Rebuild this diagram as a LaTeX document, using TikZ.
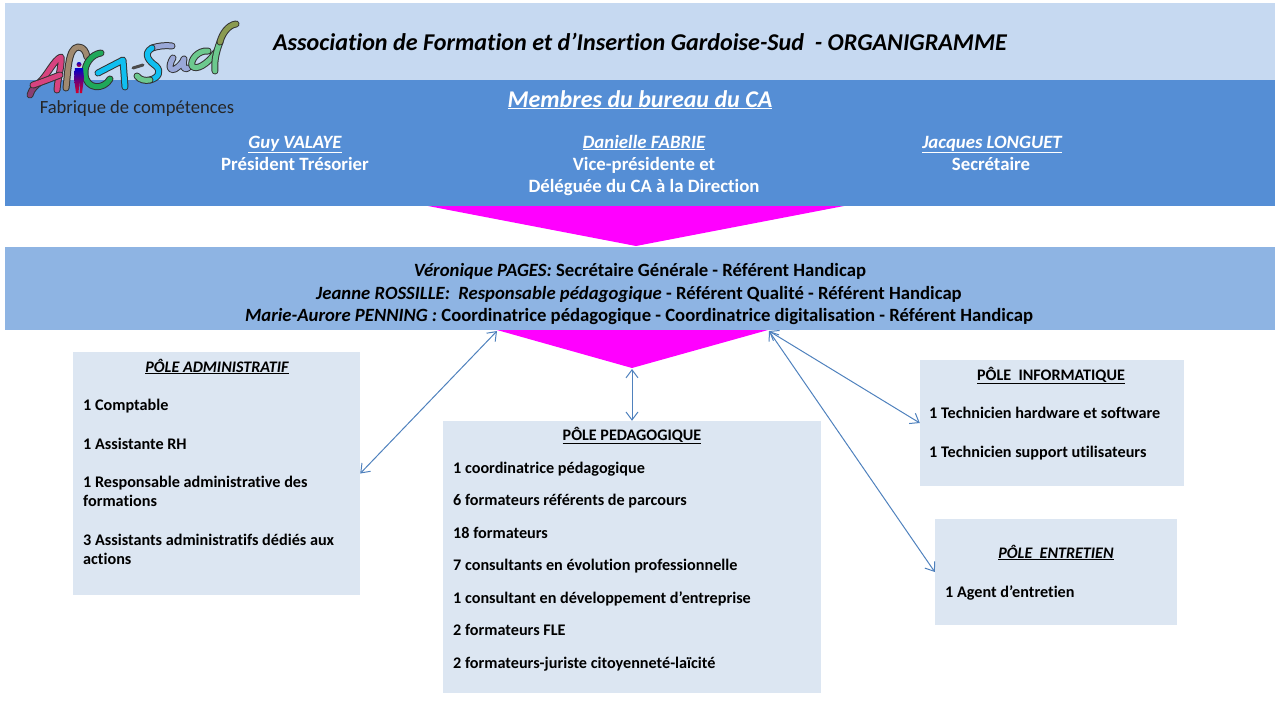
\documentclass[tikz,border=0pt]{standalone}
\usepackage{fontspec}
\setmainfont[Ligatures=NoCommon]{Carlito}
\usetikzlibrary{arrows.meta}
\definecolor{bandtop}{HTML}{C6D9F1}
\definecolor{bandca}{HTML}{558ED5}
\definecolor{bandstaff}{HTML}{8EB4E3}
\definecolor{polefill}{HTML}{DCE6F2}
\definecolor{linkblue}{HTML}{4F81BD}
\definecolor{logopink}{HTML}{D8437F}
\definecolor{logoplum}{HTML}{8A3F73}
\definecolor{logotan}{HTML}{A08A70}
\definecolor{logogreen}{HTML}{1FA85A}
\definecolor{logocyan}{HTML}{10BFF0}
\definecolor{logolav}{HTML}{9AA8D8}
\definecolor{logomint}{HTML}{6CC98E}
\definecolor{logoolive}{HTML}{8A9A50}
\tikzset{
  band/.style={fill=#1,inner sep=0pt,anchor=north west},
  polebox/.style={fill=polefill,inner sep=0pt},
  link/.style={linkblue,line width=1pt,{Straight Barb[length=8pt,width=12pt]}-{Straight Barb[length=8pt,width=12pt]}},
  item/.style={anchor=base west,inner sep=0pt,font=\fontsize{16.2}{18}\selectfont\bfseries},
  polehead/.style={anchor=base,inner sep=0pt,font=\fontsize{16.1}{18}\selectfont\bfseries},
  member/.style={anchor=base,inner sep=0pt,text=white,font=\fontsize{18.8}{22}\selectfont\bfseries},
  membername/.style={member,font=\fontsize{18.8}{22}\selectfont\bfseries\itshape},
  staff/.style={anchor=base,inner sep=0pt,font=\fontsize{18.7}{22}\selectfont\bfseries},
  logostroke/.style={line width=#1,line cap=round,line join=round},
}
% logo letter: black outline then colour on top
\newcommand{\logopath}[2]{%
  \draw[logostroke=7pt,black!80] #2;
  \draw[logostroke=5pt,#1] #2;
}
\begin{document}
\begin{tikzpicture}[x=1pt,y=1pt,yscale=-1,xscale=1]
\useasboundingbox (0,0) rectangle (1280,720);

%Bands
\node[band=bandtop,minimum width=1270pt,minimum height=77pt] (bandtitle) at (5,3) {};
\node[band=bandca,minimum width=1270pt,minimum height=126pt] (bandbureau) at (5,80) {};
\node[band=bandstaff,minimum width=1270pt,minimum height=83pt] (bandstaff) at (5,247) {};

%Funnels
\fill[fill={rgb,255:red,255;green,0;blue,255}] (428,206) -- (844,206) -- (636,246) -- cycle;
\fill[fill={rgb,255:red,255;green,0;blue,255}] (497,330) -- (768,330) -- (632,368) -- cycle;
\coordinate (hubleft) at (497,331);
\coordinate (hubmid) at (632,369);
\coordinate (hubright) at (769,331);

%Pole boxes
\node[polebox,minimum width=287pt,minimum height=243pt] (poleadmin) at (216.5,473.5) {};
\node[polebox,minimum width=378pt,minimum height=272pt] (polepedago) at (632,557) {};
\node[polebox,minimum width=264pt,minimum height=126pt] (poleinfo) at (1052,423) {};
\node[polebox,minimum width=242pt,minimum height=106pt] (poleentretien) at (1056,572) {};

%Links
\draw[link] (hubleft) -- (poleadmin.east);
\draw[link] (hubmid) -- (polepedago.north);
\draw[link] (hubright) -- (poleinfo.west);
\draw[link] (hubright) -- (poleentretien.west);

%Title
\node[anchor=base,inner sep=0pt,font=\fontsize{24.1}{28}\selectfont\bfseries\itshape] (title) at (640,50) {Association de Formation et d’Insertion Gardoise-Sud\ \ - ORGANIGRAMME};

%Logo
\logopath{logoplum}{(30,95) .. controls (32,88) and (36,86) .. (40,82)}
\logopath{logopink}{(40,82) .. controls (48,74) and (54,60) .. (61,57) .. controls (62,66) and (58,76) .. (57,90)}
\logopath{logopink}{(33,85) .. controls (42,82) and (52,78) .. (60,75)}
\logopath{logotan}{(66,88) .. controls (68,72) and (68,48) .. (78,47) .. controls (84,47) and (86,52) .. (87,57)}
\logopath{logogreen}{(101,53) .. controls (92,54) and (84,64) .. (85,74) .. controls (86,90) and (104,90) .. (110,79)}
\logopath{logocyan}{(98,73) -- (123,60) -- (125,87)}
\shade[top color=blue!80!black,bottom color=red!70!violet] (79,64.5) circle (2.5pt);
\shade[top color=blue!80!black,bottom color=red!70!violet] (75,68) -- (83,68) -- (84,78) -- (82,93) -- (80,93) -- (79.5,80) -- (78.5,93) -- (76,93) -- (74,78) -- cycle;
\draw[logostroke=3pt,black!70] (133,68) -- (143,65);
\logopath{logolav}{(172,46) .. controls (166,45) and (158,46) .. (152,48)}
\logopath{logocyan}{(152,48) .. controls (142,54) and (150,62) .. (156,66) .. controls (162,72) and (158,78) .. (150,80)}
\logopath{logomint}{(150,80) .. controls (145,81) and (140,80) .. (137,76)}
\logopath{logolav}{(173,58) .. controls (168,66) and (170,72) .. (175,69) .. controls (180,66) and (183,62) .. (184,59) .. controls (182,66) and (184,71) .. (188,68)}
\logopath{logomint}{(208,51) .. controls (198,50) and (190,60) .. (192,66) .. controls (196,71) and (208,64) .. (216,52)}
\logopath{logomint}{(215,71) .. controls (214,62) and (216,52) .. (220,42)}
\logopath{logoolive}{(220,42) .. controls (222,34) and (228,25) .. (236,24)}
\node[anchor=base,inner sep=0pt,text=black!85,font=\fontsize{18.6}{22}\selectfont] (logotext) at (137,113) {Fabrique de compétences};

%Bureau
\node[member,font=\fontsize{24}{28}\selectfont\bfseries\itshape] (bureau) at (640,107) {\underline{Membres du bureau du CA}};
\node[membername] (guy) at (295,148) {\underline{Guy VALAYE}};
\node[member] (guyrole) at (295,170) {Président Trésorier};
\node[membername] (danielle) at (644,148) {\underline{Danielle FABRIE}};
\node[member] (daniellerole) at (644,170) {Vice-présidente et};
\node[member] (daniellerolebis) at (644,192) {Déléguée du CA à la Direction};
\node[membername] (jacques) at (992,148) {\underline{Jacques LONGUET}};
\node[member] (jacquesrole) at (991,170) {Secrétaire};

%Staff
\node[staff] (veronique) at (640,276) {\textit{Véronique PAGES:} Secrétaire Générale - Référent Handicap};
\node[staff] (jeanne) at (639,299) {\textit{Jeanne ROSSILLE:\ \ Responsable pédagogique} - Référent Qualité - Référent Handicap};
\node[staff] (marie) at (639,321) {\textit{Marie-Aurore PENNING :} Coordinatrice pédagogique - Coordinatrice digitalisation - Référent Handicap};

%Pole administratif
\node[polehead] (adminhead) at (217,372) {\textit{\underline{PÔLE ADMINISTRATIF}}};
\node[item] (admina) at (83,410) {1 Comptable};
\node[item] (adminb) at (83,449) {1 Assistante RH};
\node[item] (adminc) at (83,487) {1 Responsable administrative des};
\node[item] (admincbis) at (83,506) {formations};
\node[item] (admind) at (83,545) {3 Assistants administratifs dédiés aux};
\node[item] (admindbis) at (83,564) {actions};

%Pole pedagogique
\node[polehead] (pedagohead) at (632,440) {\underline{PÔLE PEDAGOGIQUE}};
\node[item] (pedagoa) at (453,473) {1 coordinatrice pédagogique};
\node[item] (pedagob) at (453,505) {6 formateurs référents de parcours};
\node[item] (pedagoc) at (453,538) {18 formateurs};
\node[item] (pedagod) at (453,570) {7 consultants en évolution professionnelle};
\node[item] (pedagoe) at (453,603) {1 consultant en développement d’entreprise};
\node[item] (pedagof) at (453,635) {2 formateurs FLE};
\node[item] (pedagog) at (453,668) {2 formateurs-juriste citoyenneté-laïcité};

%Pole informatique
\node[polehead] (infohead) at (1051,380) {\underline{PÔLE\ \ INFORMATIQUE}};
\node[item] (infoa) at (929,418) {1 Technicien hardware et software};
\node[item] (infob) at (929,457) {1 Technicien support utilisateurs};

%Pole entretien
\node[polehead] (entretienhead) at (1056,558) {\textit{\underline{PÔLE\ \ ENTRETIEN}}};
\node[item] (entretiena) at (945,597) {1 Agent d’entretien};

\end{tikzpicture}
\end{document}
